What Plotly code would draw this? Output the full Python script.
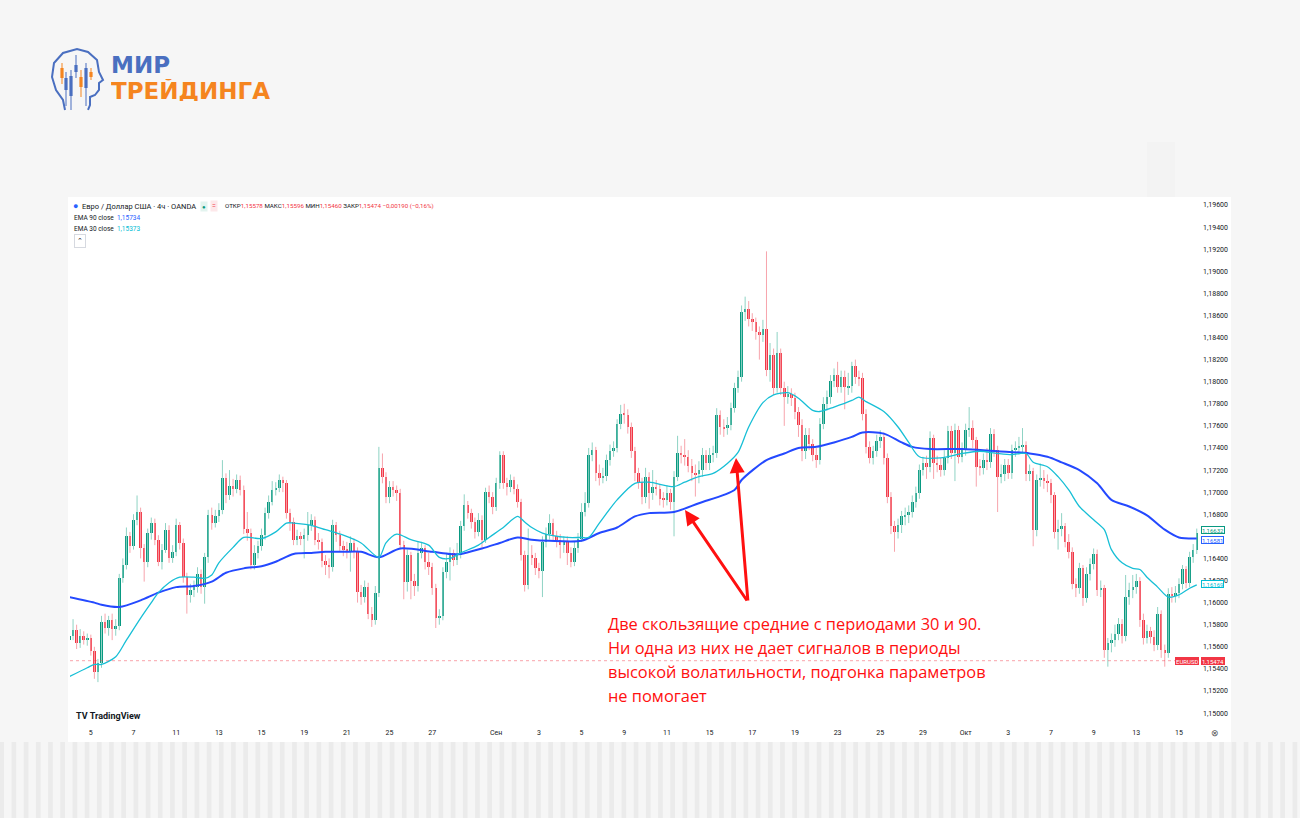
import plotly.graph_objects as go

W, H = 1300, 818
FONT = "Roboto, Arial, sans-serif"
GREEN, RED = "#089981", "#f23645"
GREEN_WICK, RED_WICK = "#8fd3c4", "#f7a4ac"
EMA90_C, EMA30_C = "#2449ff", "#17bfd6"

# 4h EURUSD candles, Aug 4 - Oct 15 (6 bars per trading day); open = previous close
first_open = 1.1566
closes = [
    1.1570, 1.1575, 1.1563, 1.1570, 1.1566, 1.1568, 1.1556, 1.1537, 1.1545, 1.1582, 1.1577, 1.1584,
    1.1576, 1.1579, 1.1622, 1.1634, 1.1660, 1.1651, 1.1675, 1.1682, 1.1649, 1.1637, 1.1663, 1.1672,
    1.1657, 1.1637, 1.1648, 1.1666, 1.1640, 1.1646, 1.1670, 1.1654, 1.1623, 1.1607, 1.1611, 1.1614,
    1.1626, 1.1614, 1.1641, 1.1679, 1.1672, 1.1678, 1.1684, 1.1713, 1.1697, 1.1706, 1.1703, 1.1711,
    1.1702, 1.1667, 1.1663, 1.1634, 1.1645, 1.1651, 1.1661, 1.1681, 1.1691, 1.1702, 1.1704, 1.1711,
    1.1708, 1.1681, 1.1673, 1.1657, 1.1660, 1.1658, 1.1661, 1.1670, 1.1675, 1.1657, 1.1655, 1.1638,
    1.1634, 1.1632, 1.1670, 1.1661, 1.1651, 1.1648, 1.1647, 1.1654, 1.1646, 1.1610, 1.1605, 1.1614,
    1.1590, 1.1584, 1.1609, 1.1722, 1.1714, 1.1696, 1.1705, 1.1702, 1.1699, 1.1652, 1.1619, 1.1643,
    1.1620, 1.1615, 1.1645, 1.1649, 1.1637, 1.1632, 1.1613, 1.1586, 1.1588, 1.1628, 1.1637, 1.1645,
    1.1639, 1.1643, 1.1669, 1.1688, 1.1681, 1.1673, 1.1664, 1.1675, 1.1657, 1.1700, 1.1696, 1.1687,
    1.1708, 1.1734, 1.1708, 1.1705, 1.1711, 1.1703, 1.1691, 1.1643, 1.1616, 1.1643, 1.1640, 1.1631,
    1.1629, 1.1655, 1.1662, 1.1672, 1.1660, 1.1657, 1.1652, 1.1655, 1.1645, 1.1637, 1.1649, 1.1658,
    1.1682, 1.1690, 1.1734, 1.1738, 1.1717, 1.1713, 1.1715, 1.1729, 1.1737, 1.1740, 1.1762, 1.1771,
    1.1770, 1.1759, 1.1737, 1.1717, 1.1709, 1.1696, 1.1714, 1.1699, 1.1705, 1.1703, 1.1694, 1.1693,
    1.1699, 1.1691, 1.1714, 1.1735, 1.1734, 1.1732, 1.1724, 1.1717, 1.1716, 1.1720, 1.1734, 1.1726,
    1.1734, 1.1735, 1.1770, 1.1759, 1.1758, 1.1761, 1.1776, 1.1794, 1.1804, 1.1863, 1.1866, 1.1857,
    1.1854, 1.1845, 1.1842, 1.1848, 1.1811, 1.1824, 1.1794, 1.1826, 1.1794, 1.1786, 1.1789, 1.1785,
    1.1773, 1.1761, 1.1737, 1.1752, 1.1744, 1.1734, 1.1729, 1.1762, 1.1780, 1.1786, 1.1801, 1.1806,
    1.1795, 1.1804, 1.1795, 1.1796, 1.1814, 1.1804, 1.1803, 1.1771, 1.1741, 1.1731, 1.1737, 1.1746,
    1.1750, 1.1731, 1.1696, 1.1669, 1.1664, 1.1670, 1.1678, 1.1679, 1.1682, 1.1691, 1.1699, 1.1720,
    1.1726, 1.1723, 1.1749, 1.1726, 1.1725, 1.1720, 1.1731, 1.1755, 1.1735, 1.1756, 1.1732, 1.1738,
    1.1756, 1.1758, 1.1747, 1.1723, 1.1722, 1.1729, 1.1727, 1.1753, 1.1738, 1.1714, 1.1716, 1.1725,
    1.1717, 1.1738, 1.1740, 1.1741, 1.1743, 1.1716, 1.1719, 1.1666, 1.1711, 1.1713, 1.1710, 1.1708,
    1.1697, 1.1664, 1.1667, 1.1669, 1.1655, 1.1646, 1.1617, 1.1613, 1.1631, 1.1604, 1.1626, 1.1635,
    1.1644, 1.1611, 1.1613, 1.1557, 1.1563, 1.1566, 1.1572, 1.1581, 1.1570, 1.1605, 1.1611, 1.1614,
    1.1620, 1.1584, 1.1568, 1.1574, 1.1569, 1.1562, 1.1590, 1.1557, 1.1554, 1.1608, 1.1606, 1.1609,
    1.1617, 1.1630, 1.1618, 1.1641, 1.1648, 1.1663,
]
highs = [
    1.1578, 1.1585, 1.1580, 1.1576, 1.1574, 1.1572, 1.1571, 1.1560, 1.1549, 1.1588, 1.1590, 1.1588,
    1.1590, 1.1585, 1.1626, 1.1640, 1.1668, 1.1664, 1.1680, 1.1697, 1.1686, 1.1653, 1.1667, 1.1677,
    1.1676, 1.1661, 1.1653, 1.1672, 1.1670, 1.1652, 1.1676, 1.1673, 1.1658, 1.1627, 1.1617, 1.1620,
    1.1632, 1.1630, 1.1645, 1.1684, 1.1686, 1.1684, 1.1690, 1.1729, 1.1717, 1.1720, 1.1712, 1.1716,
    1.1715, 1.1706, 1.1682, 1.1667, 1.1652, 1.1656, 1.1667, 1.1686, 1.1697, 1.1710, 1.1709, 1.1716,
    1.1714, 1.1711, 1.1685, 1.1677, 1.1666, 1.1664, 1.1667, 1.1682, 1.1680, 1.1678, 1.1663, 1.1658,
    1.1643, 1.1640, 1.1675, 1.1673, 1.1665, 1.1656, 1.1655, 1.1660, 1.1658, 1.1650, 1.1616, 1.1620,
    1.1618, 1.1596, 1.1615, 1.1741, 1.1735, 1.1718, 1.1710, 1.1710, 1.1706, 1.1703, 1.1656, 1.1648,
    1.1646, 1.1626, 1.1655, 1.1655, 1.1652, 1.1645, 1.1636, 1.1617, 1.1594, 1.1632, 1.1645, 1.1650,
    1.1648, 1.1654, 1.1674, 1.1698, 1.1692, 1.1685, 1.1677, 1.1681, 1.1679, 1.1704, 1.1706, 1.1700,
    1.1713, 1.1737, 1.1737, 1.1713, 1.1716, 1.1714, 1.1707, 1.1694, 1.1647, 1.1667, 1.1652, 1.1645,
    1.1636, 1.1660, 1.1668, 1.1680, 1.1676, 1.1665, 1.1662, 1.1660, 1.1660, 1.1650, 1.1655, 1.1663,
    1.1690, 1.1700, 1.1740, 1.1745, 1.1741, 1.1725, 1.1722, 1.1734, 1.1743, 1.1746, 1.1766, 1.1779,
    1.1780, 1.1775, 1.1763, 1.1741, 1.1722, 1.1713, 1.1722, 1.1718, 1.1720, 1.1711, 1.1707, 1.1700,
    1.1706, 1.1703, 1.1719, 1.1751, 1.1742, 1.1748, 1.1738, 1.1730, 1.1725, 1.1728, 1.1740, 1.1738,
    1.1740, 1.1742, 1.1776, 1.1774, 1.1766, 1.1768, 1.1781, 1.1799, 1.1810, 1.1869, 1.1877, 1.1873,
    1.1862, 1.1858, 1.1850, 1.1856, 1.1918, 1.1835, 1.1830, 1.1845, 1.1830, 1.1800, 1.1796, 1.1794,
    1.1790, 1.1777, 1.1766, 1.1758, 1.1758, 1.1748, 1.1740, 1.1767, 1.1786, 1.1792, 1.1806, 1.1812,
    1.1818, 1.1810, 1.1810, 1.1808, 1.1818, 1.1820, 1.1810, 1.1808, 1.1775, 1.1746, 1.1742, 1.1752,
    1.1756, 1.1754, 1.1735, 1.1700, 1.1674, 1.1676, 1.1683, 1.1686, 1.1688, 1.1697, 1.1705, 1.1725,
    1.1732, 1.1733, 1.1755, 1.1752, 1.1733, 1.1731, 1.1738, 1.1760, 1.1760, 1.1762, 1.1760, 1.1745,
    1.1762, 1.1777, 1.1765, 1.1750, 1.1730, 1.1735, 1.1740, 1.1758, 1.1757, 1.1742, 1.1725, 1.1730,
    1.1730, 1.1743, 1.1746, 1.1750, 1.1758, 1.1746, 1.1725, 1.1722, 1.1716, 1.1726, 1.1720, 1.1716,
    1.1712, 1.1700, 1.1675, 1.1681, 1.1672, 1.1662, 1.1650, 1.1622, 1.1636, 1.1634, 1.1632, 1.1640,
    1.1649, 1.1648, 1.1620, 1.1616, 1.1568, 1.1572, 1.1580, 1.1586, 1.1585, 1.1625, 1.1618, 1.1625,
    1.1626, 1.1623, 1.1590, 1.1580, 1.1578, 1.1575, 1.1596, 1.1593, 1.1562, 1.1613, 1.1614, 1.1615,
    1.1622, 1.1634, 1.1633, 1.1646, 1.1653, 1.1667,
]
lows = [
    1.1560, 1.1566, 1.1558, 1.1559, 1.1562, 1.1561, 1.1552, 1.1531, 1.1528, 1.1541, 1.1572, 1.1570,
    1.1566, 1.1570, 1.1575, 1.1618, 1.1630, 1.1645, 1.1648, 1.1670, 1.1640, 1.1619, 1.1632, 1.1657,
    1.1652, 1.1633, 1.1630, 1.1645, 1.1636, 1.1636, 1.1642, 1.1648, 1.1618, 1.1590, 1.1600, 1.1605,
    1.1609, 1.1608, 1.1599, 1.1636, 1.1666, 1.1668, 1.1673, 1.1680, 1.1690, 1.1693, 1.1696, 1.1699,
    1.1697, 1.1662, 1.1656, 1.1630, 1.1630, 1.1640, 1.1647, 1.1657, 1.1676, 1.1688, 1.1697, 1.1700,
    1.1700, 1.1676, 1.1665, 1.1652, 1.1652, 1.1652, 1.1640, 1.1656, 1.1665, 1.1652, 1.1648, 1.1632,
    1.1625, 1.1622, 1.1628, 1.1655, 1.1646, 1.1642, 1.1640, 1.1628, 1.1640, 1.1600, 1.1598, 1.1600,
    1.1585, 1.1578, 1.1580, 1.1605, 1.1708, 1.1690, 1.1690, 1.1696, 1.1692, 1.1648, 1.1603, 1.1610,
    1.1603, 1.1606, 1.1610, 1.1640, 1.1630, 1.1625, 1.1607, 1.1577, 1.1580, 1.1584, 1.1622, 1.1620,
    1.1633, 1.1634, 1.1640, 1.1665, 1.1676, 1.1667, 1.1658, 1.1660, 1.1650, 1.1654, 1.1690, 1.1680,
    1.1683, 1.1703, 1.1703, 1.1697, 1.1700, 1.1698, 1.1686, 1.1638, 1.1610, 1.1612, 1.1634, 1.1625,
    1.1622, 1.1605, 1.1650, 1.1657, 1.1655, 1.1650, 1.1640, 1.1645, 1.1634, 1.1632, 1.1633, 1.1645,
    1.1655, 1.1678, 1.1686, 1.1728, 1.1710, 1.1706, 1.1708, 1.1710, 1.1724, 1.1732, 1.1736, 1.1757,
    1.1762, 1.1753, 1.1731, 1.1710, 1.1703, 1.1689, 1.1690, 1.1685, 1.1693, 1.1697, 1.1688, 1.1686,
    1.1688, 1.1684, 1.1660, 1.1710, 1.1726, 1.1724, 1.1718, 1.1710, 1.1696, 1.1708, 1.1714, 1.1720,
    1.1720, 1.1727, 1.1731, 1.1752, 1.1750, 1.1752, 1.1756, 1.1772, 1.1790, 1.1800, 1.1855, 1.1850,
    1.1846, 1.1838, 1.1820, 1.1836, 1.1805, 1.1800, 1.1788, 1.1790, 1.1788, 1.1760, 1.1780, 1.1778,
    1.1766, 1.1750, 1.1728, 1.1730, 1.1738, 1.1728, 1.1722, 1.1725, 1.1757, 1.1774, 1.1780, 1.1795,
    1.1790, 1.1790, 1.1775, 1.1788, 1.1790, 1.1798, 1.1796, 1.1765, 1.1735, 1.1726, 1.1725, 1.1732,
    1.1740, 1.1725, 1.1690, 1.1662, 1.1646, 1.1658, 1.1663, 1.1670, 1.1672, 1.1677, 1.1686, 1.1694,
    1.1715, 1.1712, 1.1718, 1.1712, 1.1718, 1.1714, 1.1715, 1.1726, 1.1730, 1.1710, 1.1726, 1.1727,
    1.1733, 1.1750, 1.1740, 1.1705, 1.1715, 1.1716, 1.1720, 1.1722, 1.1732, 1.1682, 1.1708, 1.1710,
    1.1712, 1.1712, 1.1732, 1.1734, 1.1736, 1.1710, 1.1710, 1.1651, 1.1660, 1.1705, 1.1703, 1.1700,
    1.1690, 1.1658, 1.1648, 1.1660, 1.1650, 1.1640, 1.1612, 1.1605, 1.1608, 1.1597, 1.1600, 1.1620,
    1.1630, 1.1606, 1.1605, 1.1550, 1.1542, 1.1555, 1.1560, 1.1566, 1.1563, 1.1565, 1.1598, 1.1604,
    1.1608, 1.1578, 1.1562, 1.1563, 1.1563, 1.1556, 1.1557, 1.1550, 1.1542, 1.1550, 1.1600, 1.1600,
    1.1604, 1.1612, 1.1613, 1.1614, 1.1636, 1.1644,
]

# EMA readings (bar index, value)
ema90_i = [0, 7, 9, 14, 20, 25, 30, 35, 40, 44, 49, 54, 58, 63, 68, 72, 77, 82, 87, 93,
           102, 107, 110, 116, 121, 126, 130, 135, 144, 149, 154, 159, 163, 170, 177, 187, 189, 196, 201, 205,
           210, 215, 220, 223, 229, 234, 237, 242, 251, 261, 270, 275, 279, 284, 289, 293, 298, 303, 308, 312, 317]
ema90_v = [1.1605, 1.1600, 1.1598, 1.1596, 1.1602, 1.1609, 1.1614, 1.1615, 1.1619, 1.1627,
           1.1631, 1.1633, 1.1637, 1.1644, 1.1645, 1.1646, 1.1646, 1.1646, 1.1641, 1.1649,
           1.1646, 1.1644, 1.1644, 1.1649, 1.1654, 1.1659, 1.1657, 1.1656, 1.1656, 1.1663,
           1.1668, 1.1678, 1.1681, 1.1682, 1.1690, 1.1702, 1.1711, 1.1729, 1.1735, 1.1740,
           1.1741, 1.1745, 1.1750, 1.1754, 1.1753, 1.1745, 1.1741, 1.1739, 1.1739, 1.1737,
           1.1735, 1.1732, 1.1727, 1.1720, 1.1708, 1.1693, 1.1687, 1.1679, 1.1666, 1.1659, 1.1658]
ema30_i = [0, 5, 7, 9, 13, 16, 20, 23, 25, 28, 31, 35, 38, 40, 42, 46, 49, 54, 58, 61,
           63, 68, 72, 77, 82, 87, 89, 92, 96, 101, 104, 107, 110, 115, 118, 122, 126, 128, 130, 133,
           140, 144, 146, 149, 154, 159, 163, 170, 173, 177, 181, 185, 188, 191, 195, 198, 202, 205, 209, 211,
           215, 220, 222, 224, 229, 233, 236, 239, 245, 251, 256, 261, 265, 269, 271, 275, 278, 281, 284, 288,
           291, 293, 296, 299, 301, 303, 306, 309, 312, 315, 317]
ema30_v = [1.1533, 1.1541, 1.1544, 1.1544, 1.1551, 1.1566, 1.1586, 1.1600, 1.1609, 1.1618,
           1.1623, 1.1623, 1.1622, 1.1625, 1.1636, 1.1650, 1.1659, 1.1658, 1.1664, 1.1672,
           1.1672, 1.1670, 1.1666, 1.1661, 1.1654, 1.1641, 1.1654, 1.1662, 1.1657, 1.1652,
           1.1641, 1.1640, 1.1645, 1.1652, 1.1659, 1.1668, 1.1678, 1.1673, 1.1668, 1.1663,
           1.1659, 1.1659, 1.1659, 1.1672, 1.1693, 1.1708, 1.1709, 1.1705, 1.1709, 1.1714,
           1.1717, 1.1726, 1.1736, 1.1759, 1.1781, 1.1788, 1.1790, 1.1785, 1.1774, 1.1773,
           1.1777, 1.1783, 1.1786, 1.1782, 1.1773, 1.1759, 1.1745, 1.1732, 1.1731, 1.1735,
           1.1737, 1.1735, 1.1734, 1.1735, 1.1727, 1.1723, 1.1714, 1.1702, 1.1687, 1.1675,
           1.1666, 1.1648, 1.1636, 1.1631, 1.1630, 1.1623, 1.1614, 1.1605, 1.1607, 1.1613, 1.1616]

BARS_PER_DAY = 6
tick_days = [1, 3, 5, 7, 9, 11, 13, 15, 17, 20, 22, 24, 26, 28, 30, 32, 34, 36, 38, 40, 42, 44, 46, 48, 50, 52]
tick_text = ["5", "7", "11", "13", "15", "19", "21", "25", "27", "Сен", "3", "5", "9", "11", "15",
             "17", "19", "23", "25", "29", "Окт", "3", "7", "9", "13", "15"]
# price scale labels (1,16600 sits under the price tags and is not drawn)
price_ticks = [1.150, 1.152, 1.154, 1.156, 1.158, 1.160, 1.162, 1.164, 1.168, 1.170, 1.172, 1.174,
               1.176, 1.178, 1.180, 1.182, 1.184, 1.186, 1.188, 1.190, 1.192, 1.194, 1.196]

last_close, ema90_last, ema30_last, live_price = 1.16632, 1.16581, 1.16169, 1.15474
note_lines = [
    "Две скользящие средние с периодами 30 и 90.",
    "Ни одна из них не дает сигналов в периоды",
    "высокой волатильности, подгонка параметров",
    "не помогает",
]

# ---------------------------------------------------------------------------
opens = [first_open] + closes[:-1]
idx = list(range(len(closes)))
up = [c >= o for o, c in zip(opens, closes)]

fig = go.Figure()

# wicks
for flag, col in ((True, GREEN_WICK), (False, RED_WICK)):
    xs, ys = [], []
    for i in idx:
        if up[i] == flag:
            xs += [i, i, None]
            ys += [min(lows[i], opens[i], closes[i]), max(highs[i], opens[i], closes[i]), None]
    fig.add_trace(go.Scatter(x=xs, y=ys, mode="lines", line=dict(color=col, width=1),
                             hoverinfo="skip"))

# bodies
fig.add_trace(go.Bar(
    x=idx,
    base=[min(o, c) for o, c in zip(opens, closes)],
    y=[max(abs(c - o), 0.00003) for o, c in zip(opens, closes)],
    width=0.7,
    marker=dict(color=[GREEN if u else RED for u in up], line=dict(width=0)),
    hoverinfo="skip",
))

fig.add_trace(go.Scatter(x=ema90_i, y=ema90_v, mode="lines", line=dict(color=EMA90_C, width=2,
                         shape="spline", smoothing=0.8), hoverinfo="skip"))
fig.add_trace(go.Scatter(x=ema30_i, y=ema30_v, mode="lines", line=dict(color=EMA30_C, width=1.3,
                         shape="spline", smoothing=0.8), hoverinfo="skip"))

# plot frame in pixels
PX0, PX1, PY0, PY1 = 70, 1199, 198, 722
BAR_PX = 3.556
CENTER0 = 69.5


def px(x):
    return x / W


def py(y):
    return 1 - y / H


fig.update_layout(
    width=W, height=H, margin=dict(l=0, r=0, t=0, b=0),
    paper_bgcolor="#f6f6f6", plot_bgcolor="white",
    showlegend=False, barmode="overlay", bargap=0, separators=", ",
    font=dict(family=FONT, color="#131722"),
    xaxis=dict(domain=[px(PX0), px(PX1)],
               range=[(PX0 - CENTER0) / BAR_PX, (PX1 - CENTER0) / BAR_PX],
               tickvals=[d * BARS_PER_DAY for d in tick_days], ticktext=tick_text,
               tickfont=dict(size=7, color="#131722"), ticks="", showgrid=False,
               zeroline=False, showline=False, ticklabelstandoff=5, fixedrange=True),
    yaxis=dict(domain=[py(PY1), py(PY0)], range=[1.14919, 1.19663], side="right",
               tickvals=price_ticks, tickformat=".5f",
               tickfont=dict(size=7, color="#131722"), ticks="", showgrid=False,
               zeroline=False, showline=False, ticklabelstandoff=3, fixedrange=True),
)

shapes = [
    # striped band along the bottom of the page
    dict(type="rect", xref="paper", yref="paper", x0=0, x1=1, y0=0, y1=py(742),
         fillcolor="#ebebeb", line=dict(width=0), layer="below"),
]
sx = 4.0
while sx < W:
    shapes.append(dict(type="rect", xref="paper", yref="paper", x0=px(sx), x1=px(min(sx + 7.5, W)),
                       y0=0, y1=py(742), fillcolor="#f6f6f6", line=dict(width=0), layer="below"))
    sx += 12.2
shapes += [
    # faint decorative block at the top right
    dict(type="rect", xref="paper", yref="paper", x0=px(1147), x1=px(1175), y0=py(200), y1=py(142),
         fillcolor="#f3f3f3", line=dict(width=0), layer="below"),
    # white TradingView panel
    dict(type="rect", xref="paper", yref="paper", x0=px(68), x1=px(1231), y0=py(742), y1=py(197),
         fillcolor="white", line=dict(width=0), layer="below"),
    # live price line
    dict(type="line", xref="x", yref="y", x0=(PX0 - CENTER0) / BAR_PX, x1=(1176 - CENTER0) / BAR_PX,
         y0=live_price, y1=live_price, line=dict(color="rgba(242,54,69,0.45)", width=1, dash="dot")),
]

# logo: head outline with candles
head = [(65, 110), (63, 100), (56, 90), (52, 77), (54, 63), (63, 53), (77, 49), (88, 52), (97, 60),
        (99, 72), (103, 80), (99, 83), (99, 90), (95, 95), (90, 97), (90, 105), (88, 110)]
path = "M " + " L ".join(f"{px(x):.5f},{py(y):.5f}" for x, y in head)
shapes.append(dict(type="path", xref="paper", yref="paper", path=path,
                   line=dict(color="#4a6fc0", width=2)))
logo_candles = [  # x, wick top, body top, body bottom, wick bottom, colour
    (62, 63, 68, 78, 84, "#f5851f"), (66, 72, 78, 90, 106, "#4a6fc0"), (71, 70, 76, 96, 110, "#4a6fc0"),
    (76, 55, 65, 72, 78, "#4a6fc0"), (81, 70, 77, 87, 97, "#f5851f"), (86, 63, 68, 88, 106, "#4a6fc0"),
    (91, 68, 72, 77, 80, "#f5851f"),
]
for cx, wt, bt, bb, wb, col in logo_candles:
    shapes.append(dict(type="line", xref="paper", yref="paper", x0=px(cx), x1=px(cx), y0=py(wb), y1=py(wt),
                       line=dict(color=col, width=1)))
    shapes.append(dict(type="rect", xref="paper", yref="paper", x0=px(cx - 1.6), x1=px(cx + 1.6),
                       y0=py(bb), y1=py(bt), fillcolor=col, line=dict(width=0)))
fig.update_layout(shapes=shapes)


def note(x, y, text, size=7, color="#131722", xanchor="left", family=FONT, **kw):
    fig.add_annotation(x=px(x), y=py(y), xref="paper", yref="paper", text=text, showarrow=False,
                       font=dict(size=size, color=color, family=family), xanchor=xanchor,
                       yanchor="middle", **kw)


# logo text
note(109, 65, "<b>МИР</b>", size=23, color="#4a6fc0", family="DejaVu Sans, Verdana", height=22)
note(109, 90, "<b>ТРЕЙДИНГА</b>", size=23, color="#f5851f", family="DejaVu Sans, Verdana", height=22)

# legend header
note(71, 206, "●", size=9, color="#2962ff")
note(80, 206, "Евро / Доллар США · 4ч · OANDA", size=7.5)
note(200, 206, "<span style='color:#089981'>●</span>", size=6, bgcolor="#e3f4ef")
note(210, 206, "<span style='color:#f23645'>=</span>", size=7, bgcolor="#fde8ea")
r = "<span style='color:#f23645'>{}</span>"
note(223, 206, "ОТКР" + r.format("1,15578") + " МАКС" + r.format("1,15596") + " МИН" + r.format("1,15460")
     + " ЗАКР" + r.format("1,15474") + " " + r.format("−0,00190 (−0,16%)"), size=6.2)
note(72, 218, "EMA 90 close  <span style='color:#2962ff'>1,15734</span>", size=6.5)
note(72, 229, "EMA 30 close  <span style='color:#00bcd4'>1,15373</span>", size=6.5)
note(74, 241, "⌃", size=7, bordercolor="#d6d9e0", borderpad=2, bgcolor="white")

# bottom brand and settings icon
note(74, 716, "<b>TV</b> <b>TradingView</b>", size=9)
note(1215, 733, "⊗", size=9, xanchor="center", color="#555")

# right-hand price tags
tags = ((last_close, GREEN, "white", GREEN, 3), (ema90_last, "#2962ff", "white", "#2962ff", -2),
        (ema30_last, "#00bcd4", "white", "#00bcd4", 0), (live_price, RED, RED, "white", 0))
for val, col, bg, txtcol, shift in tags:
    fig.add_annotation(x=px(1201), xref="paper", y=val, yref="y", yshift=shift,
                       text=f"{val:.5f}".replace(".", ","), height=6,
                       showarrow=False, xanchor="left", yanchor="middle", bgcolor=bg, bordercolor=col,
                       borderwidth=1, borderpad=0, font=dict(size=6, color=txtcol, family=FONT))
fig.add_annotation(x=px(1199), xref="paper", y=live_price, yref="y", text="EURUSD", showarrow=False,
                   xanchor="right", yanchor="middle", bgcolor=RED, bordercolor=RED, borderwidth=1, borderpad=0,
                   height=6, font=dict(size=6, color="white", family=FONT))

# red commentary and arrows
for k, line in enumerate(note_lines):
    note(606, 623 + 24 * k, line, size=16.4, color="#ff1010", family="Open Sans, Arial")
for tip_x, tip_y in ((685, 510), (736, 458)):
    fig.add_annotation(x=px(tip_x), y=py(tip_y), xref="paper", yref="paper", ax=748 - tip_x, ay=602 - tip_y,
                       showarrow=True, arrowhead=2, arrowsize=1, arrowwidth=3, arrowcolor="#ff1010",
                       text="", standoff=0)

fig.write_html("out.html", config={"displayModeBar": False},
               post_script="document.body.style.margin='0';")
